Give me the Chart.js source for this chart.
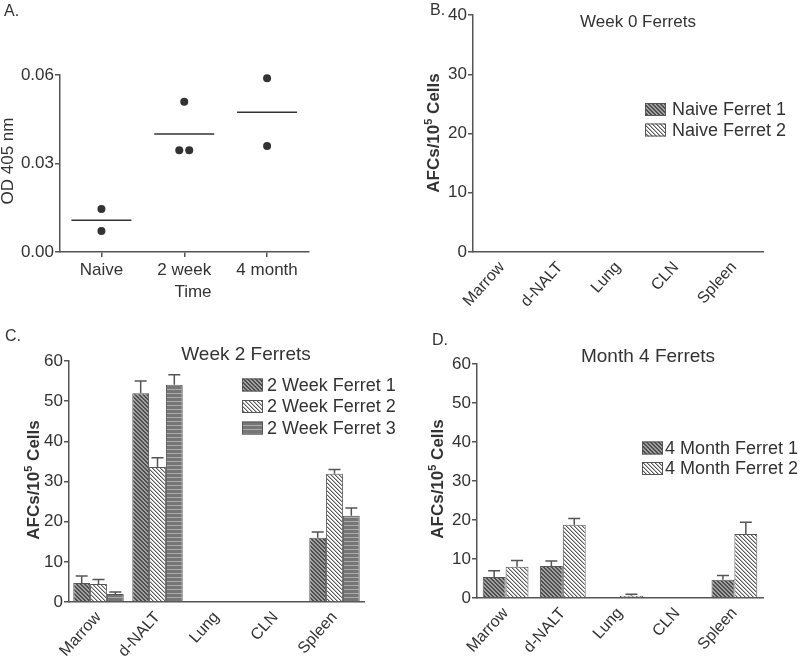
<!DOCTYPE html>
<html>
<head>
<meta charset="utf-8">
<script src="https://cdn.jsdelivr.net/npm/chart.js@4.4.1/dist/chart.umd.min.js"></script>
<style>
  body { margin: 0; background: #fff; }
  #wrap { position: relative; width: 800px; height: 658px; overflow: hidden; }
  canvas { position: absolute; }
</style>
</head>
<body>
<div id="wrap">
  <canvas id="chartA" width="340" height="310" style="left:0;top:0"></canvas>
  <canvas id="chartB" width="400" height="320" style="left:400px;top:0"></canvas>
  <canvas id="chartC" width="400" height="338" style="left:0;top:320px"></canvas>
  <canvas id="chartD" width="400" height="338" style="left:400px;top:320px"></canvas>
</div>
<script>
// ---- data ----
// A: OD 405 nm by time point (x = group index, small jitter for tied points)
const timeLabels = ['Naive', '2 week', '4 month'];
const odX = [1, 1, 2, 1.94, 2.06, 3, 3];
const odY = [0.0146, 0.0071, 0.0509, 0.0345, 0.0345, 0.0589, 0.0359];
const odMeans = [0.0108, 0.0400, 0.0474];
const odTicks = [0, 0.03, 0.06];

// B-D: AFCs per 10^5 cells by tissue
const organs = ['Marrow', 'd-NALT', 'Lung', 'CLN', 'Spleen'];
const week0Ticks = [0, 10, 20, 30, 40];
const afcTicks = [0, 10, 20, 30, 40, 50, 60];

const week0Ferret1 = [0, 0, 0, 0, 0];
const week0Ferret2 = [0, 0, 0, 0, 0];

const week2Ferret1 = [4.7, 52.0, 0, 0, 16.0];
const week2Ferret1Err = [1.8, 3.0, 0, 0, 1.4];
const week2Ferret2 = [4.5, 33.6, 0, 0, 31.9];
const week2Ferret2Err = [1.1, 2.3, 0, 0, 1.1];
const week2Ferret3 = [2.0, 54.1, 0, 0, 21.5];
const week2Ferret3Err = [0.5, 2.5, 0, 0, 1.9];

const month4Ferret1 = [5.4, 8.2, 0, 0, 4.7];
const month4Ferret1Err = [1.6, 1.3, 0, 0, 1.1];
const month4Ferret2 = [8.0, 18.8, 0.6, 0, 16.4];
const month4Ferret2Err = [1.6, 1.6, 0.35, 0, 3.0];

const fam = '"Liberation Sans", Arial, Helvetica, sans-serif';
Chart.defaults.font.family = fam;
Chart.defaults.color = '#333';

// hatch fills like the GraphPad bars
function makePattern(kind) {
  const c = document.createElement('canvas');
  c.width = 4; c.height = 4;
  const g = c.getContext('2d');
  if (kind === 'dark') {
    g.fillStyle = '#a0a0a0'; g.fillRect(0, 0, 4, 4);
    g.fillStyle = '#4e4e4e';
    for (let i = 0; i < 4; i++) { g.fillRect(i, i, 1, 1); g.fillRect((i + 1) % 4, i, 1, 1); }
  } else if (kind === 'light') {
    g.fillStyle = '#ffffff'; g.fillRect(0, 0, 4, 4);
    g.fillStyle = '#5a5a5a';
    for (let i = 0; i < 4; i++) g.fillRect(i, i, 1, 1);
    g.fillStyle = '#b8b8b8';
    for (let i = 0; i < 4; i++) g.fillRect((i + 1) % 4, i, 1, 1);
  } else {
    g.fillStyle = '#767676'; g.fillRect(0, 0, 4, 4);
    g.fillStyle = '#ababab'; g.fillRect(0, 1, 4, 1);
  }
  return g.createPattern(c, 'repeat');
}
const patDark = makePattern('dark');
const patLight = makePattern('light');
const patLines = makePattern('lines');

// error bars: upper whisker + cap only
const errorBars = {
  id: 'errorBars',
  afterDatasetsDraw(chart) {
    const ctx = chart.ctx;
    const y = chart.scales.y;
    chart.data.datasets.forEach((ds, i) => {
      if (!ds.errors) return;
      chart.getDatasetMeta(i).data.forEach((bar, j) => {
        const e = ds.errors[j];
        if (!e) return;
        const top = y.getPixelForValue(ds.data[j] + e);
        ctx.save();
        ctx.strokeStyle = '#555';
        ctx.lineWidth = 1.5;
        ctx.beginPath();
        ctx.moveTo(bar.x, bar.y);
        ctx.lineTo(bar.x, top);
        ctx.moveTo(bar.x - 6, top);
        ctx.lineTo(bar.x + 6, top);
        ctx.stroke();
        ctx.restore();
      });
    });
  }
};

// panel letters, titles, y titles and in-plot legends
const panelText = {
  id: 'panelText',
  afterDraw(chart, args, o) {
    const ctx = chart.ctx;
    ctx.save();
    ctx.fillStyle = '#333';
    ctx.textBaseline = 'alphabetic';
    (o.texts || []).forEach(t => {
      ctx.font = `${t.size}px ${fam}`;
      ctx.textAlign = t.align || 'left';
      ctx.fillText(t.text, t.x, t.y);
    });
    if (o.yTitle) {
      const t = o.yTitle;
      ctx.translate(t.x, t.y);
      ctx.rotate(-Math.PI / 2);
      const w = t.bold ? 'bold ' : '';
      const main = `${w}${t.size}px ${fam}`;
      const small = `${w}${Math.round(t.size * 0.62)}px ${fam}`;
      ctx.font = main;
      const w1 = ctx.measureText(t.text).width;
      const w3 = t.after ? ctx.measureText(t.after).width : 0;
      ctx.font = small;
      const w2 = t.sup ? ctx.measureText(t.sup).width : 0;
      let x = -(w1 + w2 + w3) / 2;
      ctx.textAlign = 'left';
      ctx.font = main;
      ctx.fillText(t.text, x, t.size * 0.36);
      x += w1;
      if (t.sup) {
        ctx.font = small;
        ctx.fillText(t.sup, x, t.size * 0.36 - t.size * 0.42);
        x += w2;
      }
      if (t.after) {
        ctx.font = main;
        ctx.fillText(t.after, x, t.size * 0.36);
      }
      ctx.setTransform(1, 0, 0, 1, 0, 0);
    }
    if (o.legend) {
      const L = o.legend;
      ctx.font = `18px ${fam}`;
      ctx.textAlign = 'left';
      ctx.textBaseline = 'middle';
      chart.data.datasets.forEach((ds, i) => {
        const cy = L.y + i * L.gap;
        ctx.fillStyle = ds.backgroundColor;
        ctx.fillRect(L.x, cy - 6.5, 21, 13);
        ctx.strokeStyle = '#555';
        ctx.lineWidth = 1;
        ctx.strokeRect(L.x + 0.5, cy - 6, 20, 12);
        ctx.fillStyle = '#333';
        ctx.fillText(ds.label, L.textX, cy + 1);
      });
    }
    ctx.restore();
  }
};

// ---- panel A ----
new Chart(document.getElementById('chartA'), {
  type: 'scatter',
  data: {
    datasets: [
      {
        label: 'OD',
        data: odX.map((x, i) => ({ x: x, y: odY[i] })),
        pointRadius: 4,
        backgroundColor: '#333',
        borderWidth: 0,
        clip: false
      },
      {
        label: 'Mean',
        data: odMeans.map((m, i) => ({ x: i + 1, y: m })),
        pointStyle: 'line',
        pointRadius: 30,
        borderColor: '#333',
        borderWidth: 1.5,
        clip: false
      }
    ]
  },
  options: {
    responsive: false,
    animation: false,
    devicePixelRatio: 1,
    layout: { padding: { top: 75, right: 13, left: 0, bottom: 0 } },
    plugins: {
      legend: { display: false },
      tooltip: { enabled: false },
      panelText: {
        texts: [
          { text: 'A.', x: 4, y: 16, size: 16 },
          { text: 'Time', x: 193, y: 297, size: 17, align: 'center' }
        ],
        yTitle: { text: 'OD 405 nm', x: 7, y: 161, size: 17, bold: false }
      }
    },
    scales: {
      x: {
        type: 'linear', min: 0.5, max: 3.5,
        afterBuildTicks: s => { s.ticks = timeLabels.map((c, i) => ({ value: i + 1 })); },
        afterFit: s => { s.height = 58; },
        grid: { drawOnChartArea: false, drawTicks: true, tickLength: 5, color: '#555', lineWidth: 1.5 },
        border: { color: '#555', width: 1.5 },
        ticks: { font: { size: 17 }, color: '#333', padding: 3, maxRotation: 0,
          callback: v => timeLabels[v - 1] }
      },
      y: {
        min: 0, max: 0.06,
        afterBuildTicks: s => { s.ticks = odTicks.map(v => ({ value: v })); },
        afterFit: s => { s.width = 60; },
        grid: { drawOnChartArea: false, drawTicks: true, tickLength: 5, color: '#555', lineWidth: 1.5 },
        border: { color: '#555', width: 1.5 },
        ticks: { font: { size: 17 }, color: '#333', padding: 1, callback: v => v.toFixed(2) }
      }
    }
  },
  plugins: [panelText]
});

// ---- bar panels ----
function barPanel(id, datasets, yTicks, box, deco) {
  return new Chart(document.getElementById(id), {
    type: 'bar',
    data: { labels: organs, datasets: datasets },
    options: {
      responsive: false,
      animation: false,
      devicePixelRatio: 1,
      layout: { padding: { top: box.top, right: box.right, left: 0, bottom: 0 } },
      datasets: { bar: { categoryPercentage: box.cat, barPercentage: 1.0, borderColor: '#555', borderWidth: 1 } },
      plugins: { legend: { display: false }, tooltip: { enabled: false }, panelText: deco },
      scales: {
        x: {
          offset: true,
          afterFit: s => { s.height = box.xHeight; },
          grid: { display: false, drawTicks: false },
          border: { color: '#555', width: 1.5 },
          ticks: { font: { size: 16 }, color: '#333', minRotation: 48, maxRotation: 48, padding: 6 }
        },
        y: {
          min: 0, max: yTicks[yTicks.length - 1],
          afterBuildTicks: s => { s.ticks = yTicks.map(v => ({ value: v })); },
          afterFit: s => { s.width = box.yWidth; },
          grid: { drawOnChartArea: false, drawTicks: true, tickLength: 5, color: '#555', lineWidth: 1.5 },
          border: { color: '#555', width: 1.5 },
          ticks: { font: { size: 17 }, color: '#333', padding: 1 }
        }
      }
    },
    plugins: [errorBars, panelText]
  });
}

const afcTitle = { text: 'AFCs/10', sup: '5', after: ' Cells', size: 17, bold: true };

barPanel('chartB', [
  { label: 'Naive Ferret 1', data: week0Ferret1, backgroundColor: patDark },
  { label: 'Naive Ferret 2', data: week0Ferret2, backgroundColor: patLight }
], week0Ticks, { top: 15, right: 37, yWidth: 73, xHeight: 68, cat: 0.8 }, {
  texts: [
    { text: 'B.', x: 30, y: 15, size: 16 },
    { text: 'Week 0 Ferrets', x: 238, y: 27, size: 17, align: 'center' }
  ],
  yTitle: Object.assign({ x: 33, y: 133 }, afcTitle),
  legend: { x: 245, y: 109.5, gap: 20.5, textX: 272 }
});

barPanel('chartC', [
  { label: '2 Week Ferret 1', data: week2Ferret1, errors: week2Ferret1Err, backgroundColor: patDark },
  { label: '2 Week Ferret 2', data: week2Ferret2, errors: week2Ferret2Err, backgroundColor: patLight },
  { label: '2 Week Ferret 3', data: week2Ferret3, errors: week2Ferret3Err, backgroundColor: patLines }
], afcTicks, { top: 41, right: 36, yWidth: 69, xHeight: 56, cat: 0.855 }, {
  texts: [
    { text: 'C.', x: 5, y: 21, size: 16 },
    { text: 'Week 2 Ferrets', x: 246, y: 40, size: 19, align: 'center' }
  ],
  yTitle: Object.assign({ x: 33, y: 160 }, afcTitle),
  legend: { x: 242, y: 65, gap: 21.5, textX: 267 }
});

barPanel('chartD', [
  { label: '4 Month Ferret 1', data: month4Ferret1, errors: month4Ferret1Err, backgroundColor: patDark },
  { label: '4 Month Ferret 2', data: month4Ferret2, errors: month4Ferret2Err, backgroundColor: patLight }
], afcTicks, { top: 44, right: 37, yWidth: 77, xHeight: 60, cat: 0.8 }, {
  texts: [
    { text: 'D.', x: 32, y: 25, size: 16 },
    { text: 'Month 4 Ferrets', x: 248, y: 42, size: 19, align: 'center' }
  ],
  yTitle: Object.assign({ x: 37, y: 159 }, afcTitle),
  legend: { x: 242, y: 128, gap: 20.5, textX: 265 }
});
</script>
</body>
</html>
